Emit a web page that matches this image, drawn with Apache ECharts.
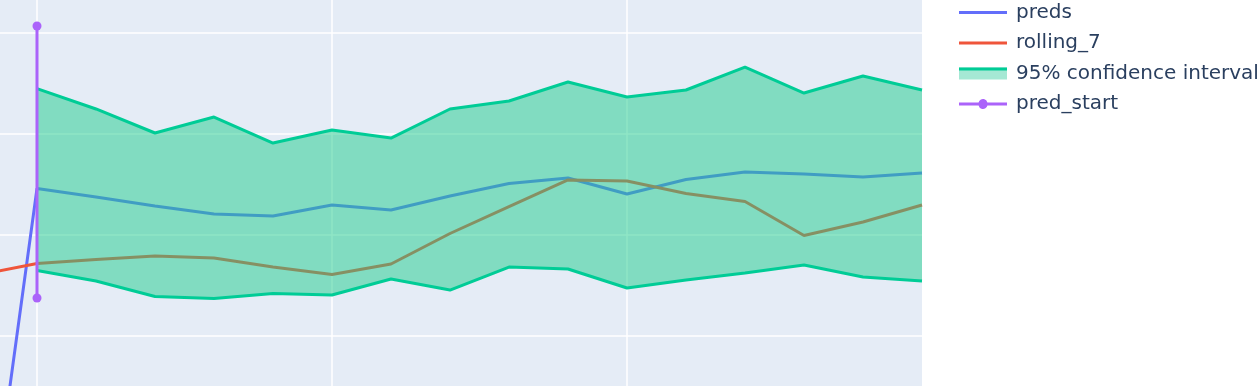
<!DOCTYPE html>
<html>
<head>
<meta charset="utf-8">
<script src="https://cdn.jsdelivr.net/npm/echarts@6/dist/echarts.min.js"></script>
<style>html,body{margin:0;padding:0;background:#fff}#c{width:1260px;height:386px}</style>
</head>
<body>
<div id="c"></div>
<script>
// step index of each date (0 = prediction start)
const steps = [0,1,2,3,4,5,6,7,8,9,10,11,12,13,14,15];
const predsX = [-1,0,1,2,3,4,5,6,7,8,9,10,11,12,13,14,15];
const predsY = [-8.12,34.60,33.76,32.87,32.08,31.88,32.97,32.48,33.86,35.10,35.64,34.06,35.50,36.24,36.04,35.74,36.14];
const rollingX = [-1,0,1,2,3,4,5,6,7,8,9,10,11,12,13,14,15];
const rollingY = [26.04,27.18,27.57,27.92,27.72,26.83,26.09,27.13,30.15,32.82,35.45,35.35,34.11,33.32,29.95,31.29,32.97];
const ciUpper = [44.50,42.48,40.10,41.68,39.11,40.40,39.60,42.48,43.27,45.15,43.66,44.36,46.63,44.06,45.74,44.36];
const ciLower = [26.49,25.45,23.91,23.71,24.21,24.06,25.64,24.55,26.83,26.63,24.75,25.54,26.24,27.03,25.84,25.45];
const predStartX = [0,0];
const predStartY = [50.69,23.76];
const xGridTicks = [0,5,10];
const yGridTicks = [20,30,40,50];
const legendNames = ['preds','rolling_7','95% confidence interval','pred_start'];

const pairs = (xs, ys) => xs.map((x,i)=>[x, ys[i]]);

const font = 'DejaVu Sans';
const textColor = '#2a3f5f';
const fillColor = 'rgba(30,204,140,0.5)';
const chart = echarts.init(document.getElementById('c'), null, {renderer:'canvas'});
const lineIcon = 'path://M0,0H48V3H0Z';
const markerIcon = 'path://M0,3H19.6A4.5,4.5 0 0,1 28.4,3H48V6H28.4A4.5,4.5 0 0,1 19.6,6H0Z';
chart.setOption({
  animation:false,
  grid:{left:0,right:338,top:0,bottom:0,show:true,backgroundColor:'#E5ECF6',borderWidth:0,containLabel:false},
  xAxis:{type:'value',min:-0.627,max:15,
    axisLine:{show:false},axisTick:{show:false},axisLabel:{show:false},splitLine:{show:false}},
  yAxis:{type:'value',min:15.05,max:53.27,
    axisLine:{show:false},axisTick:{show:false},axisLabel:{show:false},splitLine:{show:false}},
  legend:[{
    orient:'vertical',left:959,top:1.5,padding:0,itemWidth:48,itemHeight:14,itemGap:8.5,symbolKeepAspect:true,
    textStyle:{fontFamily:font,fontSize:20,color:textColor,lineHeight:22,padding:[0,0,0,4]},
    data:[
      {name:legendNames[0],icon:lineIcon,itemStyle:{color:'#636EFA',borderWidth:0}},
      {name:legendNames[1],icon:lineIcon,itemStyle:{color:'#EF553B',borderWidth:0}},
      {name:legendNames[2],icon:'path://M0,0H48V12H0Z',itemStyle:{color:'#a5e8d4',borderWidth:0}},
      {name:legendNames[3],icon:markerIcon,itemStyle:{color:'#AB63FA',borderWidth:0}}
    ]
  },{
    orient:'vertical',left:959,top:58,padding:0,itemWidth:48,itemHeight:3,
    textStyle:{fontFamily:font,fontSize:20,color:'rgba(0,0,0,0)',lineHeight:22,padding:[0,0,0,4]},
    data:[{name:legendNames[2],icon:lineIcon,itemStyle:{color:'#00cc96',borderWidth:0}}]
  }],
  series:[
    {name:'grid',type:'line',data:[],silent:true,z:0,
      markLine:{silent:true,z:0.5,symbol:'none',label:{show:false},animation:false,
        lineStyle:{color:'#ffffff',width:1.5,type:'solid'},
        emphasis:{disabled:true},
        data:xGridTicks.map(v=>({xAxis:v})).concat(yGridTicks.map(v=>({yAxis:v})))}},
    {name:legendNames[0],type:'line',data:pairs(predsX,predsY),symbol:'none',z:2,
      lineStyle:{color:'#636EFA',width:3},itemStyle:{color:'#636EFA'}},
    {name:legendNames[1],type:'line',data:pairs(rollingX,rollingY),symbol:'none',z:2,
      lineStyle:{color:'#EF553B',width:3},itemStyle:{color:'#EF553B'}},
    {name:legendNames[2],type:'custom',data:[0],z:3,silent:true,
      renderItem:(params, api)=>{
        const up = steps.map((s,i)=>api.coord([s,ciUpper[i]]));
        const lo = steps.map((s,i)=>api.coord([s,ciLower[i]])).reverse();
        return {type:'polygon',shape:{points:up.concat(lo)},style:{fill:fillColor}};
      }},
    {name:legendNames[2],type:'line',data:pairs(steps,ciUpper),symbol:'none',z:4,
      lineStyle:{color:'#00CC96',width:3},itemStyle:{color:'#00CC96'}},
    {name:legendNames[2],type:'line',data:pairs(steps,ciLower),symbol:'none',z:4,
      lineStyle:{color:'#00CC96',width:3},itemStyle:{color:'#00CC96'}},
    {name:legendNames[3],type:'line',data:pairs(predStartX,predStartY),symbol:'circle',symbolSize:9,showSymbol:true,z:5,
      lineStyle:{color:'#AB63FA',width:3},itemStyle:{color:'#AB63FA'}}
  ]
});
</script>
</body>
</html>
